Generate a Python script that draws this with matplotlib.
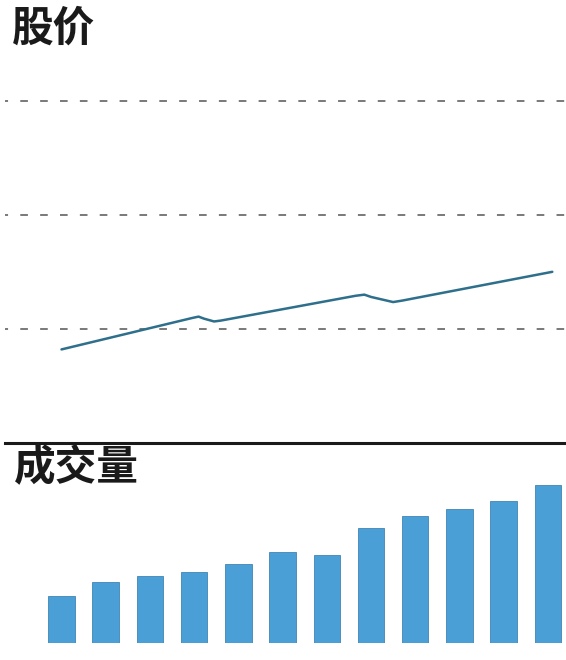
import matplotlib.pyplot as plt

plt.rcParams['font.family'] = ['Noto Sans CJK SC', 'DejaVu Sans']

# 股价 (折线) - x 为时间序号, y 为价格
price_x = [0.0, 2.95, 3.1, 3.22, 3.45, 3.6, 6.65, 6.85, 7.0, 7.5, 7.7, 11.1]
price_y = [16.4, 21.9, 22.15, 21.8, 21.3, 21.45, 25.8, 26.0, 25.6, 24.7, 24.95, 30.0]
grid_ticks = [20, 40, 60]

# 成交量 (柱状)
volume = [47, 61, 67, 71, 79, 91, 88, 115, 127, 134, 142, 158]
periods = list(range(len(volume)))

W, H = 566, 660
fig = plt.figure(figsize=(W / 100, H / 100), dpi=100)
fig.patch.set_facecolor('white')

def box(x0, y0, x1, y1):
    # 像素坐标 -> figure 坐标 (y 从上往下)
    return [x0 / W, 1 - y1 / H, (x1 - x0) / W, (y1 - y0) / H]

xlim = (-1.278, 11.41)

# 上半部分: 股价
ax1 = fig.add_axes(box(5, 55, 566, 443))
ax1.plot(price_x, price_y, color='#2e6f8c', linewidth=1.8,
         solid_capstyle='round', solid_joinstyle='round')
ax1.set_xlim(xlim)
ax1.set_ylim(0, 68)
ax1.set_yticks(grid_ticks)
ax1.grid(axis='y', color='#555555', linestyle=(3, (5, 8)), linewidth=1.1)
ax1.tick_params(left=False, bottom=False, labelleft=False, labelbottom=False)
for s in ['top', 'left', 'right']:
    ax1.spines[s].set_visible(False)
ax1.spines['bottom'].set_color('#1a1a1a')
ax1.spines['bottom'].set_linewidth(2.2)
ax1.set_facecolor('none')

# 下半部分: 成交量
ax2 = fig.add_axes(box(5, 470, 566, 643))
ax2.bar(periods, volume, width=0.6, color='#4a9fd6', edgecolor='#3f85b5', linewidth=0.6)
ax2.set_xlim(xlim)
ax2.set_ylim(0, 173)
ax2.axis('off')

fig.text(12 / W, 1 - 29 / H, '股价', fontsize=30, fontweight='bold',
         color='#1a1a1a', va='center', ha='left')
fig.text(14 / W, 1 - 468 / H, '成交量', fontsize=30, fontweight='bold',
         color='#1a1a1a', va='center', ha='left')

fig.savefig('out.png', dpi=100, facecolor='white')
